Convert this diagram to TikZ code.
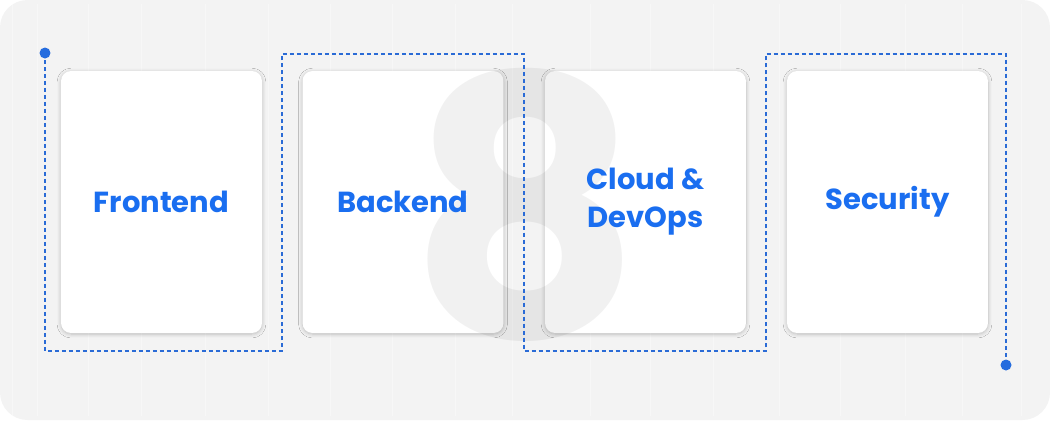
\documentclass[tikz,border=0pt]{standalone}
\usepackage{fontspec}
\setmainfont{Poppins}
\usepackage{tikz}
\usetikzlibrary{calc,shadows.blur}
\definecolor{bgray}{HTML}{F3F3F3}
\definecolor{tblue}{HTML}{1A6EF0}
\definecolor{lblue}{HTML}{2A6BD6}

\begin{document}
\begin{tikzpicture}[x = 0.02cm, y = -0.02cm,
  card/.style = {fill = white, rounded corners = 0.2cm, minimum width = 4.02cm,
    minimum height = 5.24cm, blur shadow = {shadow xshift = 0pt, shadow yshift = -0.6pt,
    shadow blur steps = 8, shadow opacity = 22}},
  label/.style = {text = tblue, font = \fontsize{16.5}{21.5}\selectfont\bfseries, align = center},
  track/.style = {draw = lblue, line width = 0.048cm, dash pattern = on 0.08cm off 0.06cm},
  tip/.style = {circle, fill = lblue!70!tblue, inner sep = 0pt, minimum size = 0.22cm}]
\pgfmathsetmacro{\w}{1050} % width
\pgfmathsetmacro{\h}{420} % height
\pgfmathsetmacro{\top}{54}
\pgfmathsetmacro{\bot}{351}
\useasboundingbox (0, 0) rectangle (\w, \h);
\fill[bgray, rounded corners = 0.55cm] (0, 0) rectangle (\w, \h);
% faint streaks
\foreach \x in {12, 37, 88, 141, 205, 268, 330, 392, 455, 512, 590, 650, 713, 779, 840, 905, 962, 1021}
  \draw[white, opacity = 0.35, line width = 0.4pt] (\x, 4) -- (\x, 416);

% cards
\node[card] (front) at (161.5, 202) {};
\node[card] (back) at (403, 202) {};
\node[card] (cloud) at (645.5, 202) {};
\node[card] (sec) at (887.5, 202) {};

% big eight
\node[text = black, opacity = 0.055, font = \fontsize{205}{205}\selectfont\bfseries] (eight) at (525, 205) {8};

\node[label] at (front) {Frontend};
\node[label] at (back) {Backend};
\node[label] at (cloud.center) {Cloud \&\\DevOps};
\node[label] at (sec) {Security};

% dotted track
\coordinate (s) at (45, 53);
\coordinate (c1) at (45, \bot);
\coordinate (c2) at (282, \bot);
\coordinate (c3) at (282, \top);
\coordinate (c4) at (524, \top);
\coordinate (c5) at (524, \bot);
\coordinate (c6) at (766, \bot);
\coordinate (c7) at (766, \top);
\coordinate (c8) at (1006, \top);
\coordinate (e) at (1006, 365);
\draw[track] (s) -- (c1) -- (c2) -- (c3) -- (c4) -- (c5) -- (c6) -- (c7) -- (c8) -- (e);
\node[tip] (start) at (s) {};
\node[tip] (end) at (e) {};
\end{tikzpicture}
\end{document}
